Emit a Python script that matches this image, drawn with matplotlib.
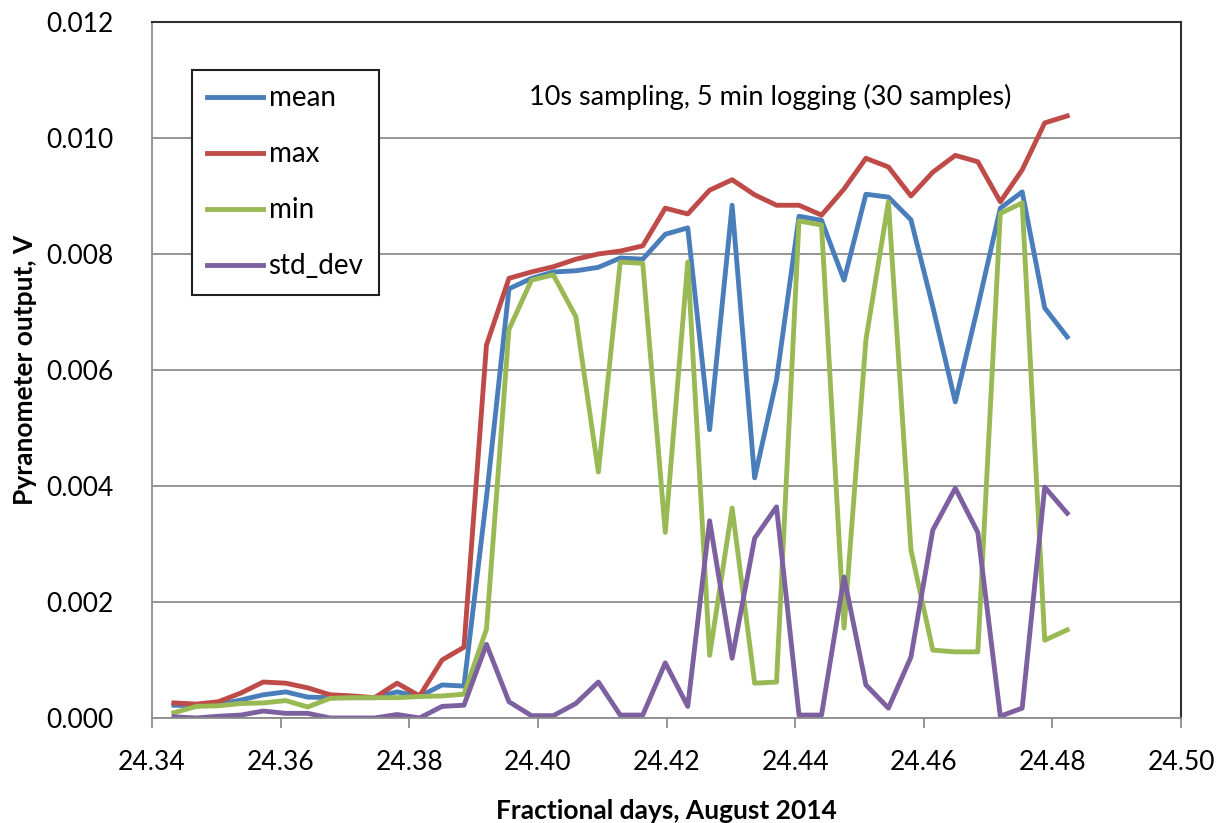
import matplotlib

matplotlib.use("Agg")
import matplotlib.pyplot as plt
from matplotlib.ticker import FormatStrFormatter, MultipleLocator

plt.rcParams["font.family"] = ["Lato", "DejaVu Sans"]

# Fractional days (5 min logging interval)
days = [
    24.3434, 24.3469, 24.3503, 24.3538, 24.3573, 24.3608, 24.3642, 24.3677,
    24.3712, 24.3746, 24.3781, 24.3816, 24.3851, 24.3885, 24.3920, 24.3955,
    24.3990, 24.4024, 24.4059, 24.4094, 24.4128, 24.4163, 24.4198, 24.4233,
    24.4267, 24.4302, 24.4337, 24.4371, 24.4406, 24.4441, 24.4476, 24.4510,
    24.4545, 24.4580, 24.4614, 24.4649, 24.4684, 24.4719, 24.4753, 24.4788,
    24.4823,
]
mean_v = [
    0.00022, 0.00021, 0.00023, 0.00031, 0.00040, 0.00045, 0.00036, 0.00035,
    0.00035, 0.00035, 0.00045, 0.00037, 0.00057, 0.00055, 0.00380, 0.00740,
    0.00758, 0.00769, 0.00771, 0.00777, 0.00793, 0.00791, 0.00834, 0.00845,
    0.00497, 0.00884, 0.00414, 0.00583, 0.00865, 0.00858, 0.00755, 0.00903,
    0.00898, 0.00859, 0.00709, 0.00545, 0.00709, 0.00879, 0.00907, 0.00707,
    0.00657,
]
max_v = [
    0.00026, 0.00024, 0.00028, 0.00043, 0.00062, 0.00060, 0.00052, 0.00040,
    0.00038, 0.00035, 0.00060, 0.00038, 0.00100, 0.00122, 0.00643, 0.00758,
    0.00769, 0.00778, 0.00791, 0.00800, 0.00805, 0.00814, 0.00879, 0.00869,
    0.00910, 0.00928, 0.00902, 0.00884, 0.00884, 0.00867, 0.00912, 0.00965,
    0.00950, 0.00900, 0.00941, 0.00970, 0.00959, 0.00890, 0.00945, 0.01026,
    0.01038,
]
min_v = [
    0.00009, 0.00020, 0.00021, 0.00025, 0.00026, 0.00030, 0.00019, 0.00034,
    0.00035, 0.00035, 0.00035, 0.00037, 0.00038, 0.00041, 0.00153, 0.00670,
    0.00755, 0.00764, 0.00692, 0.00424, 0.00786, 0.00784, 0.00320, 0.00786,
    0.00108, 0.00362, 0.00060, 0.00062, 0.00857, 0.00850, 0.00155, 0.00652,
    0.00890, 0.00290, 0.00117, 0.00114, 0.00114, 0.00870, 0.00888, 0.00134,
    0.00152,
]
std_v = [
    0.00002, 0.00000, 0.00003, 0.00005, 0.00012, 0.00008, 0.00008, 0.00000,
    0.00000, 0.00000, 0.00006, 0.00000, 0.00020, 0.00022, 0.00127, 0.00028,
    0.00004, 0.00004, 0.00025, 0.00062, 0.00005, 0.00005, 0.00095, 0.00020,
    0.00340, 0.00103, 0.00310, 0.00364, 0.00005, 0.00005, 0.00243, 0.00057,
    0.00017, 0.00105, 0.00324, 0.00396, 0.00320, 0.00003, 0.00017, 0.00398,
    0.00353,
]

series = [
    ("mean", mean_v, "#4a7ebb"),
    ("max", max_v, "#be4b48"),
    ("min", min_v, "#98b954"),
    ("std_dev", std_v, "#7d60a0"),
]

fig = plt.figure(figsize=(12.3, 8.23), dpi=100)
ax = fig.add_axes([0.1236, 0.1276, 0.8366, 0.8457])

for label, values, color in series:
    ax.plot(days, values, color=color, linewidth=3.5, label=label)

ax.set_xlim(24.34, 24.50)
ax.set_ylim(0, 0.012)
ax.xaxis.set_major_locator(MultipleLocator(0.02))
ax.yaxis.set_major_locator(MultipleLocator(0.002))
ax.xaxis.set_major_formatter(FormatStrFormatter("%.2f"))
ax.yaxis.set_major_formatter(FormatStrFormatter("%.3f"))
ax.grid(True, axis="y", color="#8c8c8c", linewidth=1.3)
ax.set_axisbelow(True)

ax.tick_params(axis="x", direction="out", length=7, width=1.3,
               color="#8c8c8c", labelsize=19, pad=16)
ax.tick_params(axis="y", length=0, labelsize=19, pad=28)
for side in ("left", "bottom"):
    ax.spines[side].set_color("#8c8c8c")
    ax.spines[side].set_linewidth(1.3)
for side in ("top", "right"):
    ax.spines[side].set_color("#303030")
    ax.spines[side].set_linewidth(1.5)

ax.set_xlabel("Fractional days, August 2014", fontsize=19,
              fontweight="bold", labelpad=17)
ax.set_ylabel("Pyranometer output, V", fontsize=19,
              fontweight="bold", labelpad=6)

ax.text(0.366, 0.893, "10s sampling, 5 min logging (30 samples)",
        transform=ax.transAxes, fontsize=19.5, va="center", ha="left")

legend = ax.legend(
    loc="upper left",
    bbox_to_anchor=(0.039, 0.931),
    borderaxespad=0,
    fontsize=20,
    frameon=True,
    fancybox=False,
    edgecolor="#202020",
    framealpha=1,
    handlelength=2.0,
    handletextpad=0.2,
    labelspacing=1.08,
    borderpad=0.55,
)
legend.get_frame().set_linewidth(1.5)

fig.savefig("out.png", dpi=100, facecolor="white")
plt.close(fig)
